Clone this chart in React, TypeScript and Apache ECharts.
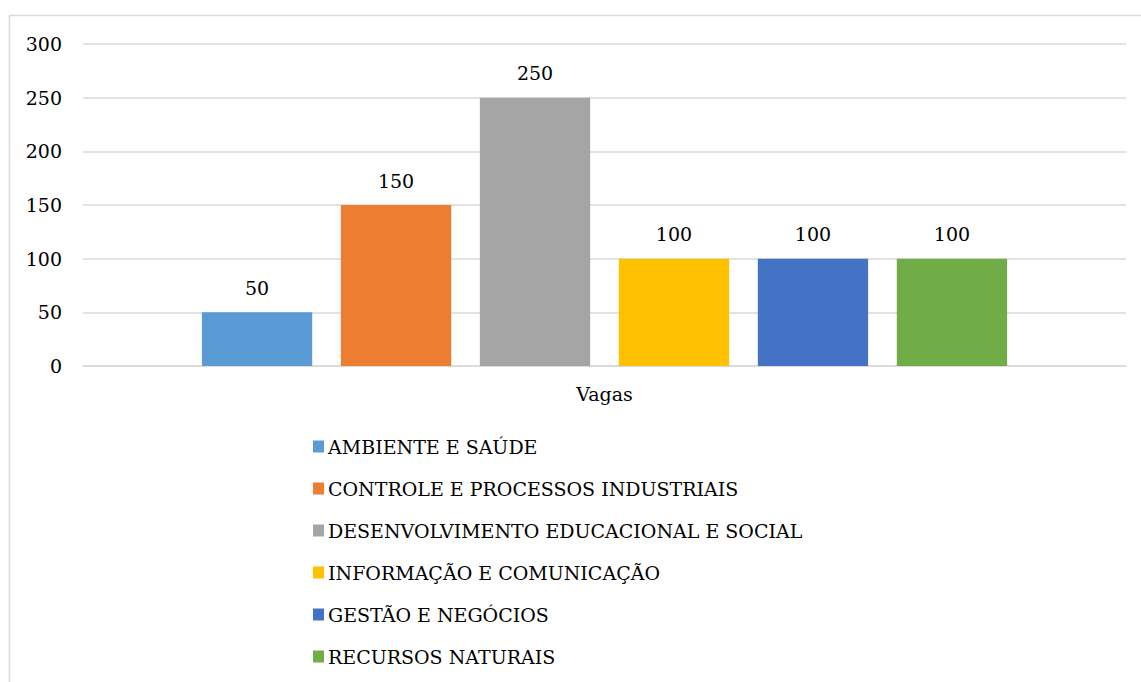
import React, { useEffect, useRef } from "react";
import * as echarts from "echarts";

const categories = ["Vagas"];
const seriesNames = [
  "AMBIENTE E SAÚDE",
  "CONTROLE E PROCESSOS INDUSTRIAIS",
  "DESENVOLVIMENTO EDUCACIONAL E SOCIAL",
  "INFORMAÇÃO E COMUNICAÇÃO",
  "GESTÃO E NEGÓCIOS",
  "RECURSOS NATURAIS",
];
const seriesValues = [50, 150, 250, 100, 100, 100];
const colors = ["#5B9BD5", "#ED7D31", "#A5A5A5", "#FFC000", "#4472C4", "#70AD47"];

const FONT = "DejaVu Serif";
const FS = 19;

export default function App() {
  const ref = useRef<HTMLDivElement>(null);
  useEffect(() => {
    const chart = echarts.init(ref.current!, undefined, { renderer: "svg" });
    chart.setOption({
      animation: false,
      textStyle: { fontFamily: FONT },
      graphic: [
        {
          type: "rect",
          shape: { x: 9.5, y: 15.5, width: 1200, height: 800 },
          style: { fill: "none", stroke: "#d9d9d9", lineWidth: 1.5 },
          silent: true,
        },
      ],
      grid: { left: 83, right: 15, top: 44, bottom: 316, containLabel: false },
      xAxis: {
        type: "category",
        data: categories,
        axisLine: { show: true, lineStyle: { color: "#d9d9d9", width: 1.5 } },
        axisTick: { show: false },
        axisLabel: { color: "#000", fontSize: FS, fontFamily: FONT, margin: 18 },
      },
      yAxis: {
        type: "value",
        min: 0,
        max: 300,
        interval: 50,
        axisLine: { show: false },
        axisTick: { show: false },
        splitLine: { lineStyle: { color: "#d9d9d9", width: 1.5 } },
        axisLabel: { color: "#000", fontSize: FS, fontFamily: FONT, margin: 21 },
      },
      legend: {
        orient: "vertical",
        left: 308,
        top: 432,
        itemWidth: 11,
        itemHeight: 12,
        itemGap: 23,
        icon: "rect",
        textStyle: { color: "#000", fontSize: FS, fontFamily: FONT, padding: [0, 0, 0, -1] },
        data: seriesNames,
      },
      series: seriesNames.map((name, i) => ({
        name,
        type: "bar",
        data: [seriesValues[i]],
        itemStyle: { color: colors[i] },
        barGap: "26%",
        barCategoryGap: "22.8%",
        label: {
          show: true,
          position: "top",
          distance: 15,
          color: "#000",
          fontSize: FS,
          fontFamily: FONT,
        },
      })),
    });
    return () => chart.dispose();
  }, []);
  return (
    <div
      ref={ref}
      style={{ position: "fixed", left: 0, top: 0, width: 1141, height: 682, background: "#fff" }}
    />
  );
}
